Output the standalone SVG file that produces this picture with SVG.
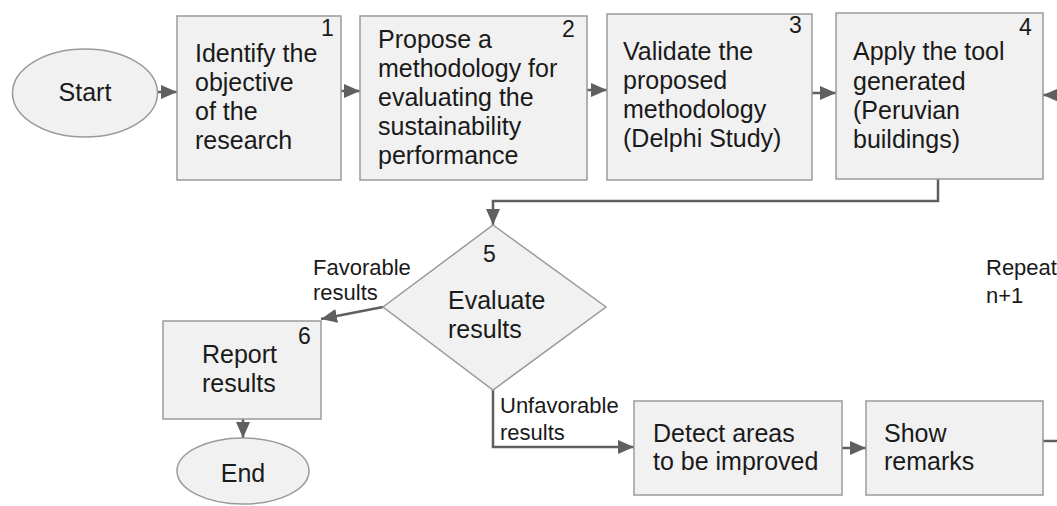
<svg xmlns="http://www.w3.org/2000/svg" width="1057" height="506" viewBox="0 0 1057 506">
<style>
.box{fill:#f1f1f1;stroke:#9a9a9a;stroke-width:1.5}
.t{font-family:"Liberation Sans",Arial,sans-serif;font-size:25px;fill:#1a1a1a}
.n{font-family:"Liberation Sans",Arial,sans-serif;font-size:23px;fill:#1a1a1a}
.l{font-family:"Liberation Sans",Arial,sans-serif;font-size:22px;fill:#1a1a1a}
.c{fill:none;stroke:#5f5f5f;stroke-width:2.5}
</style>
<defs>
<marker id="ahb" markerWidth="16" markerHeight="14" refX="16" refY="7" orient="auto" markerUnits="userSpaceOnUse" viewBox="0 0 16 14">
<path d="M0,0 L16,7 L0,14 z" fill="#5f5f5f"/>
</marker>
</defs>
<rect width="1057" height="506" fill="#ffffff"/>
<g id="connectors">
<line class="c" x1="157" y1="92" x2="177" y2="92" marker-end="url(#ahb)"/>
<line class="c" x1="341" y1="91" x2="360" y2="91" marker-end="url(#ahb)"/>
<line class="c" x1="583" y1="90" x2="607" y2="90" marker-end="url(#ahb)"/>
<line class="c" x1="812" y1="93" x2="836" y2="93" marker-end="url(#ahb)"/>
<line class="c" x1="1057" y1="95" x2="1043" y2="95" marker-end="url(#ahb)"/>
<polyline class="c" points="938,179 938,201 493,201 493,225" marker-end="url(#ahb)"/>
<line class="c" x1="383" y1="307" x2="321" y2="319" marker-end="url(#ahb)"/>
<line class="c" x1="243" y1="419" x2="243" y2="438" marker-end="url(#ahb)"/>
<polyline class="c" points="493,390 493,447 634,447" marker-end="url(#ahb)"/>
<line class="c" x1="842" y1="448" x2="866" y2="448" marker-end="url(#ahb)"/>
<line class="c" x1="1037" y1="441" x2="1057" y2="441"/>
</g>
<g id="start">
<ellipse cx="85" cy="93" rx="72.5" ry="44" class="box"/>
<text class="t" x="85" y="101" text-anchor="middle">Start</text>
</g>
<g id="step1">
<rect class="box" x="177" y="16" width="164" height="164"/>
<text class="n" x="321" y="36">1</text>
<text class="t" x="195" y="62">Identify the</text>
<text class="t" x="195" y="91">objective</text>
<text class="t" x="195" y="120">of the</text>
<text class="t" x="195" y="149">research</text>
</g>
<g id="step2">
<rect class="box" x="360" y="16" width="227" height="164"/>
<text class="n" x="562" y="37">2</text>
<text class="t" x="378" y="48">Propose a</text>
<text class="t" x="378" y="77">methodology for</text>
<text class="t" x="378" y="106">evaluating the</text>
<text class="t" x="378" y="135">sustainability</text>
<text class="t" x="378" y="164">performance</text>
</g>
<g id="step3">
<rect class="box" x="607" y="14" width="205" height="166"/>
<text class="n" x="789" y="33">3</text>
<text class="t" x="623" y="60">Validate the</text>
<text class="t" x="623" y="89">proposed</text>
<text class="t" x="623" y="118">methodology</text>
<text class="t" x="623" y="147">(Delphi Study)</text>
</g>
<g id="step4">
<rect class="box" x="836" y="13" width="207" height="166"/>
<text class="n" x="1019" y="35">4</text>
<text class="t" x="853" y="60">Apply the tool</text>
<text class="t" x="853" y="90">generated</text>
<text class="t" x="853" y="119">(Peruvian</text>
<text class="t" x="853" y="148">buildings)</text>
</g>
<g id="step5">
<polygon class="box" points="493,225 606,307 493,390 383,307"/>
<text class="n" x="483" y="262">5</text>
<text class="t" x="448" y="309">Evaluate</text>
<text class="t" x="448" y="338">results</text>
</g>
<g id="step6">
<rect class="box" x="163" y="321" width="158" height="98"/>
<text class="n" x="298" y="344">6</text>
<text class="t" x="202" y="363">Report</text>
<text class="t" x="202" y="392">results</text>
</g>
<g id="end">
<ellipse cx="243" cy="471" rx="66" ry="33" class="box"/>
<text class="t" x="243" y="482" text-anchor="middle">End</text>
</g>
<g id="detect">
<rect class="box" x="634" y="401" width="208" height="94"/>
<text class="t" x="653" y="442">Detect areas</text>
<text class="t" x="653" y="470">to be improved</text>
</g>
<g id="show">
<rect class="box" x="866" y="401" width="177" height="94"/>
<text class="t" x="884" y="442">Show</text>
<text class="t" x="884" y="470">remarks</text>
</g>
<g id="labels">
<text class="l" x="313" y="275">Favorable</text>
<text class="l" x="313" y="300">results</text>
<text class="l" x="500" y="413">Unfavorable</text>
<text class="l" x="500" y="440">results</text>
<text class="l" x="986" y="275">Repeat</text>
<text class="l" x="986" y="303">n+1</text>
</g>
</svg>
